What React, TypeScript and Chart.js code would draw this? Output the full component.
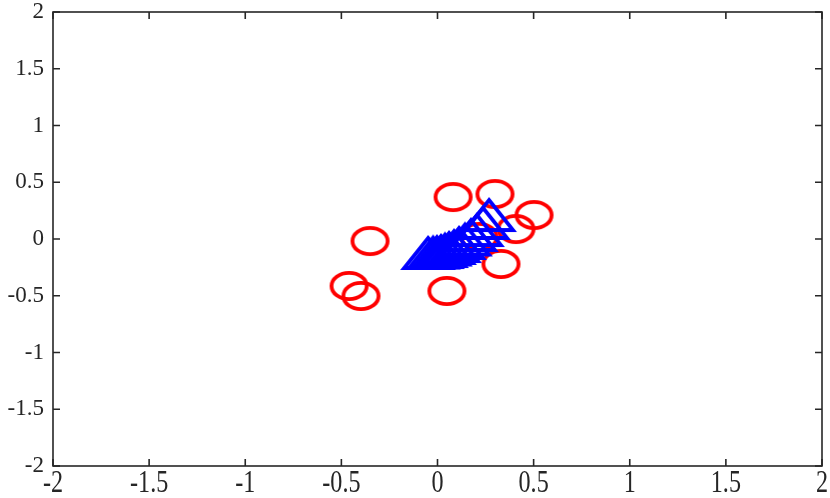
import { useEffect, useRef } from 'react';
import { Chart, registerables } from 'chart.js';

Chart.register(...registerables);

const axisMin = -2;
const axisMax = 2;
const tickStep = 0.5;

// red circles
const circleX = [0.081, 0.299, 0.502, 0.408, -0.351, -0.46, -0.398, 0.049, 0.33, 0.216];
const circleY = [0.37, 0.396, 0.211, 0.088, -0.018, -0.414, -0.502, -0.458, -0.22, 0.018];

// blue triangles
const triX = [-0.049, -0.023, -0.003, 0.018, 0.039, 0.06, 0.086, 0.112, 0.143, 0.174, 0.205, 0.237, 0.268];
const triY = [-0.123, -0.119, -0.115, -0.106, -0.093, -0.079, -0.062, -0.035, -0.004, 0.035, 0.079, 0.141, 0.211];

const AXIS_COLOR = '#262626';
const FONT = "'Liberation Serif', 'Times New Roman', serif";

function makeEllipse(): HTMLCanvasElement {
  const c = document.createElement('canvas');
  c.width = 41;
  c.height = 32;
  const ctx = c.getContext('2d')!;
  ctx.strokeStyle = '#ff0000';
  ctx.lineWidth = 3.8;
  ctx.beginPath();
  ctx.ellipse(20.5, 16, 17.6, 13.2, 0, 0, Math.PI * 2);
  ctx.stroke();
  return c;
}

function makeTriangle(): HTMLCanvasElement {
  const c = document.createElement('canvas');
  c.width = 58;
  c.height = 40;
  const ctx = c.getContext('2d')!;
  ctx.strokeStyle = '#0000ff';
  ctx.lineWidth = 3.8;
  ctx.lineJoin = 'miter';
  ctx.beginPath();
  ctx.moveTo(29, 5);
  ctx.lineTo(53, 35);
  ctx.lineTo(5, 35);
  ctx.closePath();
  ctx.stroke();
  return c;
}

const boxPlugin = {
  id: 'matlabBox',
  afterDatasetsDraw(chart: any) {
    const { ctx, chartArea } = chart;
    const { left, right, top, bottom } = chartArea;
    const xs = chart.scales.x;
    const ys = chart.scales.y;
    ctx.save();
    ctx.strokeStyle = AXIS_COLOR;
    ctx.lineWidth = 1.6;
    ctx.strokeRect(left, top, right - left, bottom - top);
    const tl = 7;
    ctx.beginPath();
    xs.ticks.forEach((t: any) => {
      const px = xs.getPixelForValue(t.value);
      ctx.moveTo(px, bottom);
      ctx.lineTo(px, bottom - tl);
      ctx.moveTo(px, top);
      ctx.lineTo(px, top + tl);
    });
    ys.ticks.forEach((t: any) => {
      const py = ys.getPixelForValue(t.value);
      ctx.moveTo(left, py);
      ctx.lineTo(left + tl, py);
      ctx.moveTo(right, py);
      ctx.lineTo(right - tl, py);
    });
    ctx.stroke();

    // x tick labels (vertically stretched like the reference)
    ctx.fillStyle = AXIS_COLOR;
    ctx.font = `23px ${FONT}`;
    ctx.textAlign = 'center';
    ctx.textBaseline = 'top';
    xs.ticks.forEach((t: any) => {
      const px = xs.getPixelForValue(t.value);
      ctx.save();
      ctx.translate(px, bottom + 2);
      ctx.scale(1.05, 1.36);
      ctx.fillText(String(t.label), 0, 0);
      ctx.restore();
    });
    ctx.restore();
  },
};

export default function App() {
  const ref = useRef<HTMLCanvasElement | null>(null);

  useEffect(() => {
    if (!ref.current) return;
    const ellipse = makeEllipse();
    const tri = makeTriangle();
    const chart = new Chart(ref.current, {
      type: 'scatter',
      data: {
        datasets: [
          {
            label: 'triangles',
            data: triX.map((x, i) => ({ x, y: triY[i] })),
            pointStyle: tri as any,
            pointRadius: 5,
            showLine: false,
          },
          {
            label: 'circles',
            data: circleX.map((x, i) => ({ x, y: circleY[i] })),
            pointStyle: ellipse as any,
            pointRadius: 5,
            showLine: false,
          },
        ],
      },
      options: {
        responsive: false,
        animation: false,
        devicePixelRatio: 1,
        layout: { padding: { top: 12, right: 8, left: 0, bottom: 0 } },
        plugins: {
          legend: { display: false },
          tooltip: { enabled: false },
        },
        scales: {
          x: {
            type: 'linear',
            min: axisMin,
            max: axisMax,
            grid: { display: false, drawTicks: false },
            border: { display: false },
            ticks: {
              stepSize: tickStep,
              color: 'rgba(0,0,0,0)',
              padding: 2,
              font: { family: FONT, size: 23 },
              maxRotation: 0,
              autoSkip: false,
              callback: (v: any) => String(v),
            },
            afterFit: (s: any) => {
              s.height = 32;
              s.paddingLeft = 0;
              s.paddingRight = 0;
              s.paddingTop = 0;
              s.paddingBottom = 0;
            },
          },
          y: {
            type: 'linear',
            min: axisMin,
            max: axisMax,
            grid: { display: false, drawTicks: false },
            border: { display: false },
            ticks: {
              stepSize: tickStep,
              color: AXIS_COLOR,
              padding: 9,
              font: { family: FONT, size: 23 },
              autoSkip: false,
              callback: (v: any) => String(v),
            },
            afterFit: (s: any) => {
              s.width = 53;
              s.paddingLeft = 0;
              s.paddingRight = 0;
              s.paddingTop = 0;
              s.paddingBottom = 0;
            },
          },
        },
      },
      plugins: [boxPlugin],
    });
    return () => chart.destroy();
  }, []);

  return (
    <div style={{ position: 'absolute', left: 0, top: 0, width: 830, height: 498, background: '#fff' }}>
      <canvas ref={ref} width={830} height={498} style={{ display: 'block' }} />
    </div>
  );
}
